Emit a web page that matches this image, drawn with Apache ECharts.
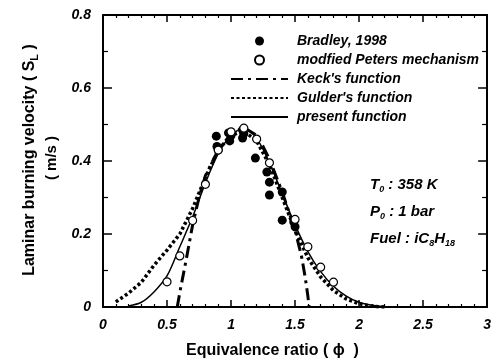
<!DOCTYPE html>
<html>
<head>
<meta charset="utf-8">
<script src="https://cdn.jsdelivr.net/npm/echarts@6/dist/echarts.min.js"></script>
<style>html,body{margin:0;padding:0;background:#fff}#c{width:494px;height:363px}</style>
</head>
<body>
<div id="c"></div>
<script>
// ---- data ----
const bradley = [[0.885,0.468],[0.9,0.43],[0.89,0.44],[0.98,0.477],[0.99,0.455],[1.0,0.47],[1.09,0.485],[1.09,0.463],[1.1,0.475],[1.19,0.408],[1.28,0.37],[1.3,0.342],[1.3,0.307],[1.4,0.315],[1.4,0.238],[1.49,0.233],[1.5,0.22]];
const peters = [[0.5,0.069],[0.6,0.14],[0.7,0.237],[0.8,0.336],[0.9,0.43],[1.0,0.48],[1.1,0.49],[1.2,0.46],[1.3,0.395],[1.5,0.24],[1.6,0.165],[1.7,0.109],[1.8,0.068]];
const keck = [[0.58,0.0],[0.6,0.04],[0.65,0.13],[0.7,0.225],[0.75,0.3],[0.8,0.36],[0.9,0.43],[1.0,0.475],[1.1,0.492],[1.2,0.47],[1.25,0.44],[1.3,0.405],[1.4,0.315],[1.5,0.21],[1.55,0.14],[1.58,0.08],[1.6,0.03],[1.61,0.0]];
const gulder = [[0.1,0.014],[0.2,0.038],[0.3,0.068],[0.4,0.115],[0.5,0.156],[0.6,0.2],[0.7,0.27],[0.8,0.355],[0.9,0.43],[1.0,0.47],[1.1,0.482],[1.2,0.455],[1.3,0.39],[1.4,0.3],[1.5,0.21],[1.6,0.135],[1.7,0.082],[1.8,0.045],[1.9,0.022],[2.0,0.009],[2.1,0.002],[2.2,0.0]];
const present = [[0.2,0.003],[0.3,0.013],[0.4,0.042],[0.5,0.085],[0.6,0.165],[0.7,0.247],[0.8,0.34],[0.9,0.42],[1.0,0.47],[1.1,0.49],[1.2,0.462],[1.3,0.395],[1.4,0.31],[1.5,0.225],[1.6,0.152],[1.7,0.097],[1.8,0.057],[1.9,0.03],[2.0,0.013],[2.1,0.005],[2.2,0.001],[2.3,0.0]];
const seriesNames = ['Bradley, 1998','modfied Peters mechanism',"Keck's function","Gulder's function",'present function'];
const xTicks = [0,0.5,1,1.5,2,2.5,3];
const yTicks = [0,0.2,0.4,0.6,0.8];

const FONT = '"Liberation Sans", Arial, sans-serif';
const chart = echarts.init(document.getElementById('c'));
const tickLbl = v => (v === 0 ? '0' : String(v));
const axisBase = {
  axisLine:{show:true,onZero:false,lineStyle:{color:'#000',width:2}},
  splitLine:{show:false},
  minorTick:{show:true,splitNumber:5,length:3,lineStyle:{color:'#000',width:1.2}},
  axisTick:{show:true,inside:true,length:7,lineStyle:{color:'#000',width:1.5}}
};
const lineSeries = (name, data, lineStyle, extra) => Object.assign({
  name, type:'line', data, showSymbol:false, symbol:'circle', symbolSize:0,
  itemStyle:{color:'#000',opacity:0}, lineStyle, z:2
}, extra || {});
chart.setOption({
  animation:false,
  backgroundColor:'#fff',
  grid:{left:103,right:1,top:15,bottom:56,containLabel:false},
  xAxis:[
    Object.assign({},axisBase,{type:'value',min:0,max:3,interval:0.5,position:'bottom',
      axisLabel:{show:true,color:'#000',fontFamily:FONT,fontSize:14,fontWeight:'bold',fontStyle:'italic',margin:11,formatter:tickLbl}}),
    Object.assign({},axisBase,{type:'value',min:0,max:3,interval:0.5,position:'top',axisLabel:{show:false}})
  ],
  yAxis:[
    Object.assign({},axisBase,{type:'value',min:0,max:0.8,interval:0.2,position:'left',
      minorTick:{show:true,splitNumber:2,length:5,lineStyle:{color:'#000',width:1.2}},
      axisTick:{show:true,inside:true,length:9,lineStyle:{color:'#000',width:1.5}},
      axisLabel:{show:true,color:'#000',fontFamily:FONT,fontSize:14,fontWeight:'bold',fontStyle:'italic',margin:12,formatter:tickLbl}}),
    Object.assign({},axisBase,{type:'value',min:0,max:0.8,interval:0.2,position:'right',
      minorTick:{show:true,splitNumber:2,length:5,lineStyle:{color:'#000',width:1.2}},
      axisTick:{show:true,inside:true,length:9,lineStyle:{color:'#000',width:1.5}},
      axisLabel:{show:false}})
  ],
  legend:{
    orient:'vertical',left:230,top:34,itemWidth:57,itemHeight:9,itemGap:5,padding:0,
    data:seriesNames,
    textStyle:{color:'#000',fontFamily:FONT,fontSize:14,fontWeight:'bold',fontStyle:'italic',padding:[0,0,0,4]}
  },
  series:[
    lineSeries(seriesNames[2], keck, {color:'#000',width:3,type:[12,5,3,5]}),
    lineSeries(seriesNames[3], gulder, {color:'#000',width:3.5,type:[3,2.5]}),
    lineSeries(seriesNames[4], present, {color:'#000',width:1.5,type:'solid'}, {smooth:0.3}),
    {name:seriesNames[0],type:'scatter',data:bradley,symbol:'circle',symbolSize:9,z:3,
      itemStyle:{color:'#000',opacity:1}},
    {name:seriesNames[1],type:'scatter',data:peters,symbol:'circle',symbolSize:8,z:4,
      itemStyle:{color:'#fff',borderColor:'#000',borderWidth:1.2,opacity:1}}
  ],
  graphic:[
    {type:'text',left:186,top:343,style:{text:'Equivalence ratio ( \u03d5  )',fill:'#000',font:'bold 16px '+FONT}},
    {type:'text',x:30,y:160,rotation:Math.PI/2,style:{
      text:'Laminar burning velocity ( S{sub|L} )',align:'center',verticalAlign:'middle',fill:'#000',font:'bold 16px '+FONT,
      rich:{sub:{font:'bold 11px '+FONT,fill:'#000',verticalAlign:'bottom',padding:[9,0,0,0]}}}},
    {type:'text',x:52,y:158,rotation:Math.PI/2,style:{text:'( m/s )',align:'center',verticalAlign:'middle',fill:'#000',font:'bold 15px '+FONT}},
    {type:'text',left:370,top:171,style:{
      text:'T{sub|0} : 358 K\nP{sub|0} : 1 bar\nFuel : iC{sub|8}H{sub|18}',lineHeight:27,fill:'#000',font:'bold italic 15px '+FONT,
      rich:{sub:{font:'bold italic 9px '+FONT,fill:'#000',padding:[10,0,0,0]}}}}
  ]
});
</script>
</body>
</html>
